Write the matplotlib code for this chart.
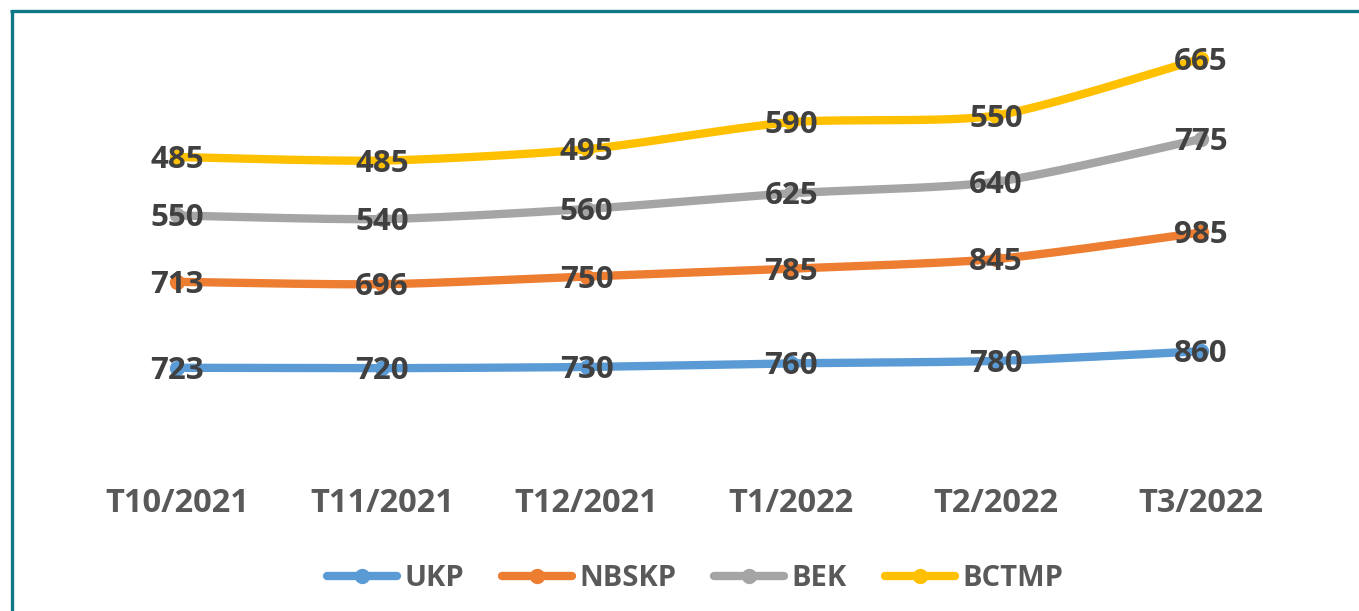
import numpy as np
import matplotlib
matplotlib.use("Agg")
import matplotlib.pyplot as plt
from matplotlib.lines import Line2D
from matplotlib.transforms import offset_copy

categories = ["T10/2021", "T11/2021", "T12/2021", "T1/2022", "T2/2022", "T3/2022"]
series_names = ["UKP", "NBSKP", "BEK", "BCTMP"]
ukp = [723, 720, 730, 760, 780, 860]
nbskp = [713, 696, 750, 785, 845, 985]
bek = [550, 540, 560, 625, 640, 775]
bctmp = [485, 485, 495, 590, 550, 665]
colors = ["#5B9BD5", "#ED7D31", "#A5A5A5", "#FFC000"]

FONT = "Open Sans"
W, H = 1359, 611
fig = plt.figure(figsize=(W / 100, H / 100), dpi=100)
fig.patch.set_facecolor("white")

x0, x1 = 75, 1303
y0, y1 = 455, 9
ax = fig.add_axes([x0 / W, (H - y0) / H, (x1 - x0) / W, (y0 - y1) / H])
ax.set_xlim(-0.5, len(categories) - 0.5)
ax.set_ylim(0, (y0 - y1) / 0.1206)
for s in ax.spines.values():
    s.set_visible(False)
ax.set_yticks([])
ax.set_xticks(range(len(categories)))
ax.set_xticklabels(categories, fontsize=23.5, fontweight="bold", color="#595959", family=FONT)
ax.tick_params(axis="x", length=0, pad=23)


def smooth(xs, ys, n=30, k=1 / 6):
    xs = np.asarray(xs, float)
    ys = np.asarray(ys, float)
    px = np.concatenate([[xs[0]], xs, [xs[-1]]])
    py = np.concatenate([[ys[0]], ys, [ys[-1]]])
    ox, oy = [], []
    for i in range(1, len(px) - 2):
        p0, p1, p2, p3 = (np.array([px[j], py[j]]) for j in (i - 1, i, i + 1, i + 2))
        c1 = p1 + (p2 - p0) * k
        c2 = p2 - (p3 - p1) * k
        t = np.linspace(0, 1, n)[:, None]
        b = (1 - t) ** 3 * p1 + 3 * (1 - t) ** 2 * t * c1 + 3 * (1 - t) * t ** 2 * c2 + t ** 3 * p2
        ox.extend(b[:, 0]); oy.extend(b[:, 1])
    return ox, oy


data = [ukp, nbskp, bek, bctmp]
cum = np.cumsum(np.array(data, float), axis=0)
xs = np.arange(len(categories))
handles = []
for name, vals, c, col in zip(series_names, data, cum, colors):
    sx, sy = smooth(xs, c, k=0.12)
    ax.plot(sx, sy, color=col, lw=6, solid_capstyle="round", zorder=2)
    ax.plot(xs, c, "o", color=col, ms=10, zorder=3)
    handles.append(Line2D([0], [0], color=col, lw=6, marker="o", ms=10, solid_capstyle="round"))

lbl_tr = offset_copy(ax.transData, fig=fig, x=0, y=-3, units="dots")
for vals, c in zip(data, cum):
    for xi, v, yi in zip(xs, vals, c):
        ax.text(xi, yi, str(v), ha="center", va="center", fontsize=22.5, fontweight="bold",
                color="#404040", family=FONT, zorder=5, transform=lbl_tr)

leg = fig.legend(handles, series_names, loc="center", bbox_to_anchor=(695 / W, 1 - 579 / H),
                 ncol=4, frameon=False, handlelength=2.4, columnspacing=1.3, handletextpad=0.25,
                 prop={"family": FONT, "weight": "bold", "size": 21})
for t in leg.get_texts():
    t.set_color("#595959")

# frame border (left and top visible)
fig.add_artist(Line2D([11.5 / W, 11.5 / W], [0, 1 - 10.5 / H], transform=fig.transFigure,
                      color="#0E7A88", lw=2.4, solid_capstyle="butt"))
fig.add_artist(Line2D([10.3 / W, 1], [1 - 10.5 / H, 1 - 10.5 / H], transform=fig.transFigure,
                      color="#0E7A88", lw=2.4, solid_capstyle="butt"))

fig.savefig("out.png", dpi=100, facecolor="white")
